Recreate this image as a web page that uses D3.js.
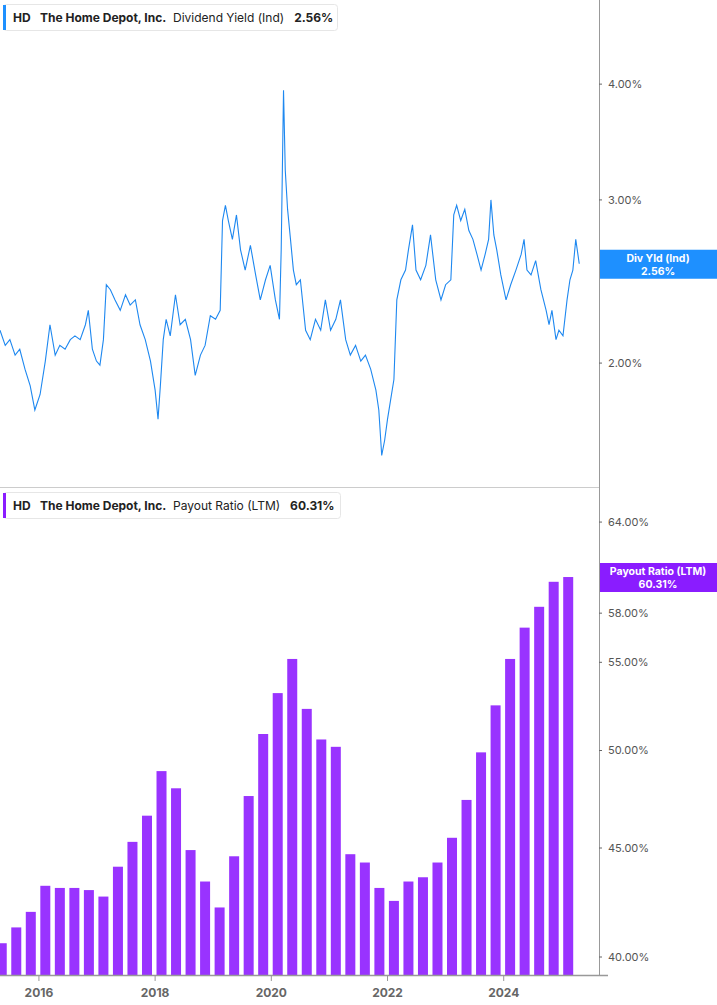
<!DOCTYPE html>
<html><head><meta charset="utf-8">
<script src="https://cdn.jsdelivr.net/npm/d3@7"></script>
<style>body{margin:0;background:#fff;font-family:Inter,"Open Sans",sans-serif;}</style>
</head><body><svg id="c" width="717" height="1005"></svg>
<script>
const yieldDates=[2015.33,2015.42,2015.50,2015.59,2015.67,2015.76,2015.85,2015.93,2016.02,2016.11,2016.19,2016.28,2016.36,2016.45,2016.54,2016.62,2016.71,2016.80,2016.85,2016.92,2016.99,2017.05,2017.11,2017.16,2017.23,2017.31,2017.40,2017.49,2017.57,2017.66,2017.74,2017.83,2017.92,2018.00,2018.05,2018.09,2018.14,2018.19,2018.26,2018.35,2018.43,2018.52,2018.61,2018.69,2018.78,2018.86,2018.95,2019.04,2019.12,2019.16,2019.21,2019.26,2019.33,2019.40,2019.47,2019.55,2019.64,2019.73,2019.81,2019.90,2019.98,2020.07,2020.14,2020.17,2020.21,2020.24,2020.28,2020.33,2020.38,2020.43,2020.50,2020.59,2020.67,2020.76,2020.85,2020.93,2021.02,2021.11,2021.19,2021.28,2021.36,2021.45,2021.54,2021.62,2021.71,2021.80,2021.85,2021.90,2021.95,2022.00,2022.05,2022.11,2022.16,2022.23,2022.31,2022.36,2022.43,2022.49,2022.57,2022.66,2022.74,2022.83,2022.92,2023.00,2023.09,2023.14,2023.19,2023.26,2023.33,2023.40,2023.47,2023.54,2023.61,2023.68,2023.74,2023.78,2023.83,2023.88,2023.95,2024.04,2024.12,2024.21,2024.30,2024.35,2024.40,2024.47,2024.55,2024.64,2024.73,2024.78,2024.83,2024.90,2024.95,2025.02,2025.09,2025.14,2025.19,2025.24,2025.30];
const yieldValues=[2.17,2.09,2.12,2.04,2.07,1.97,1.89,1.78,1.85,2.01,2.20,2.04,2.09,2.07,2.12,2.14,2.12,2.20,2.28,2.07,2.01,1.99,2.12,2.43,2.40,2.34,2.28,2.37,2.31,2.34,2.20,2.12,2.01,1.87,1.74,1.89,2.12,2.23,2.14,2.37,2.20,2.23,2.12,1.94,2.04,2.09,2.25,2.23,2.28,2.85,2.96,2.85,2.72,2.89,2.65,2.52,2.68,2.49,2.34,2.46,2.55,2.34,2.23,2.65,3.94,3.23,2.93,2.72,2.52,2.43,2.46,2.17,2.12,2.23,2.17,2.34,2.17,2.23,2.34,2.12,2.04,2.09,2.01,2.04,1.97,1.87,1.78,1.59,1.65,1.74,1.82,1.92,2.34,2.46,2.52,2.65,2.82,2.52,2.46,2.55,2.75,2.46,2.34,2.43,2.46,2.89,2.96,2.85,2.93,2.78,2.72,2.62,2.52,2.62,2.72,3.00,2.75,2.65,2.49,2.34,2.43,2.52,2.62,2.72,2.52,2.49,2.58,2.40,2.28,2.20,2.28,2.12,2.17,2.14,2.34,2.46,2.52,2.72,2.56];
const payoutStart=2015.36;
const payoutValues=[40.6,41.3,42.0,43.2,43.1,43.1,43.0,42.7,44.1,45.3,46.6,48.9,48.0,44.9,43.4,42.2,44.6,47.6,50.9,53.2,55.2,52.3,50.6,50.2,44.7,44.3,43.1,42.5,43.4,43.6,44.3,45.5,47.4,49.9,52.5,55.2,57.1,58.4,60.0,60.31];
const yieldTicks=[2,3,4];
const payoutTicks=[40,45,50,55,58,64];
const yearTicks=[2016,2018,2020,2022,2024];

const svg=d3.select("#c");
const W=599;
const x=d3.scaleLinear().domain([2015.33,2025.64]).range([0,W]);
const yT=d3.scaleLog().domain([1.47,4.93]).range([487,0]);
const yB=d3.scaleLog().domain([39.23,66.4]).range([975,488]);

svg.append("line").attr("x1",W+0.5).attr("x2",W+0.5).attr("y1",0).attr("y2",975).attr("stroke","#999");
svg.append("line").attr("x1",0).attr("x2",W).attr("y1",487.5).attr("y2",487.5).attr("stroke","#ccc");

svg.append("path").datum(yieldDates.map((d,i)=>[d,yieldValues[i]]))
 .attr("d",d3.line().x(d=>x(d[0])).y(d=>yT(d[1])))
 .attr("fill","none").attr("stroke","#1e88f0").attr("stroke-width",1.1);

const bw=10;
svg.selectAll(".bar").data(payoutValues).join("rect")
 .attr("x",(d,i)=>x(payoutStart+i*0.25)-bw/2).attr("width",bw)
 .attr("y",d=>yB(d)).attr("height",d=>975-yB(d)).attr("fill","#9933ff");

function rAxis(scale,ticks,fmt){
 const g=svg.append("g").attr("transform",`translate(${W},0)`);
 ticks.forEach(t=>{
  g.append("line").attr("x1",0).attr("x2",3).attr("y1",scale(t)).attr("y2",scale(t)).attr("stroke","#666");
  g.append("text").attr("x",9).attr("y",scale(t)).attr("dy","0.35em").attr("font-size",11).attr("fill","#555").text(fmt(t));
 });
}
rAxis(yT,yieldTicks,t=>t.toFixed(2)+"%");
rAxis(yB,payoutTicks,t=>t.toFixed(2)+"%");

svg.append("line").attr("x1",0).attr("x2",608).attr("y1",975.5).attr("y2",975.5).attr("stroke","#999").attr("stroke-width",1.5);
yearTicks.forEach(t=>{
 svg.append("line").attr("x1",x(t)).attr("x2",x(t)).attr("y1",975).attr("y2",981).attr("stroke","#999");
 svg.append("text").attr("x",x(t)).attr("y",997).attr("text-anchor","middle").attr("font-size",12).attr("font-weight","bold").attr("fill","#666").text(t);
});

function badge(y,color,l1,l2){
 svg.append("rect").attr("x",W+1).attr("y",y).attr("width",717-W).attr("height",29).attr("fill",color);
 svg.append("text").attr("x",(W+717)/2).attr("y",y+12).attr("text-anchor","middle").attr("font-size",10.5).attr("font-weight","bold").attr("fill","#fff").text(l1);
 svg.append("text").attr("x",(W+717)/2).attr("y",y+25).attr("text-anchor","middle").attr("font-size",10.5).attr("font-weight","bold").attr("fill","#fff").text(l2);
}
badge(yT(2.56)-14,"#1e90ff","Div Yld (Ind)","2.56%");
badge(563,"#8a1cff","Payout Ratio (LTM)","60.31%");

function legend(y,w,color,metric,val){
 svg.append("rect").attr("x",3.5).attr("y",y+0.5).attr("width",w).attr("height",26).attr("rx",3).attr("fill","#fff").attr("stroke","#e6e6e6");
 svg.append("rect").attr("x",3).attr("y",y+1).attr("width",3).attr("height",25).attr("fill",color);
 const t=svg.append("text").attr("x",13).attr("y",y+18).attr("font-size",12).attr("fill","#222");
 t.append("tspan").attr("font-weight","bold").text("HD");
 t.append("tspan").attr("x",40).attr("font-weight","bold").text("The Home Depot, Inc.");
 t.append("tspan").attr("x",173).text(metric);
 t.append("tspan").attr("dx",10).attr("font-weight","bold").text(val);
}
legend(4,334,"#1e90ff","Dividend Yield (Ind)","2.56%");
legend(492,337,"#8a1cff","Payout Ratio (LTM)","60.31%");
</script></body></html>
